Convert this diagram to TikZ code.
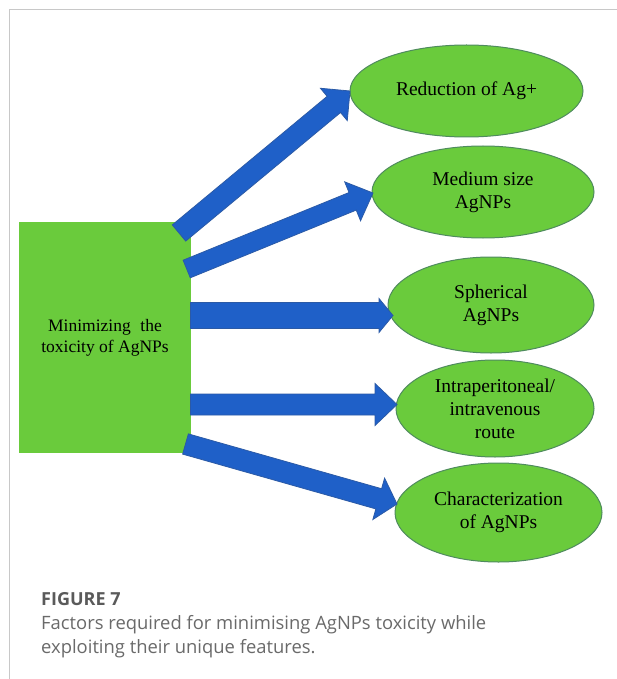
\documentclass[tikz,border=0pt]{standalone}
\usepackage{fontspec}
\setmainfont{Liberation Serif}
\newfontfamily\capfont{Open Sans}
\usetikzlibrary{calc,shapes.geometric}
\definecolor{boxgreen}{HTML}{6ACB3C}
\definecolor{ellline}{HTML}{4F8B5E}
\definecolor{arrblue}{HTML}{1F60C8}
\definecolor{arrline}{HTML}{2B5AA6}
\definecolor{framegray}{HTML}{C8C8C8}
\definecolor{capgray}{HTML}{5A5A5A}
\definecolor{capbody}{HTML}{6A6A6A}
\tikzset{
  arrowshape/.style={fill=arrblue, draw=arrline, line width=0.8pt, line join=miter},
  boxnode/.style={rectangle, fill=boxgreen, draw=none, inner sep=0pt, align=center,
    font=\fontsize{17.5}{21}\selectfont},
  factor/.style={ellipse, fill=boxgreen, draw=ellline, line width=1pt, inner sep=0pt,
    align=center, font=\fontsize{19.5}{23}\selectfont},
  capfig/.style={inner sep=0pt, text=capgray, font=\capfont\bfseries\fontsize{18}{22}\selectfont},
  captext/.style={inner sep=0pt, text=capbody, font=\capfont\fontsize{18.4}{22}\selectfont},
}
\newcommand\blkarrow[5]{%
  \coordinate (#1#2b) at ($(#2)!#5!(#1)$);
  \draw[arrowshape] ($(#1)!#3!90:(#2)$) -- ($(#1#2b)!#3!90:(#2)$) -- ($(#1#2b)!#4!90:(#2)$)
    -- (#2) -- ($(#1#2b)!#4!-90:(#2)$) -- ($(#1#2b)!#3!-90:(#2)$) -- ($(#1)!#3!-90:(#2)$) -- cycle;
}
\begin{document}
\begin{tikzpicture}[x=1pt,y=-1pt]
\useasboundingbox (0,0) rectangle (617,679);
\fill[white] (0,0) rectangle (617,679);
\draw[framegray, line width=1.3pt] (9.5,679) -- (9.5,9.5) -- (617,9.5);

\node[boxnode, minimum width=172pt, minimum height=231pt] (src) at (105,337.5)
  {Minimizing\hspace{0.55em}the\\toxicity of AgNPs};

\node[factor, minimum width=233pt, minimum height=92pt] (e1) at (466.5,91) {Reduction of Ag+};
\node[factor, minimum width=222pt, minimum height=92pt] (e2) at (483,192) {Medium size\\AgNPs};
\node[factor, minimum width=206pt, minimum height=96pt] (e3) at (491,305) {Spherical\\AgNPs};
\node[factor, minimum width=198pt, minimum height=97pt] (e4) at (495,408.5) {Intraperitoneal/\\intravenous\\route};
\node[factor, minimum width=207pt, minimum height=99pt] (e5) at (498.5,512.5) {Characterization\\of AgNPs};

\coordinate (a1s) at (179,233);   \coordinate (a1t) at (350,91);
\coordinate (a2s) at (186.7,269); \coordinate (a2t) at (373,193);
\coordinate (a3s) at (190.5,315.5); \coordinate (a3t) at (393,315.5);
\coordinate (a4s) at (190.5,404.5); \coordinate (a4t) at (397,404.5);
\coordinate (a5s) at (185.5,444); \coordinate (a5t) at (397,504);

\blkarrow{a1s}{a1t}{10.5pt}{21pt}{21pt}
\blkarrow{a2s}{a2t}{9.5pt}{21pt}{22pt}
\blkarrow{a3s}{a3t}{13pt}{17pt}{14pt}
\blkarrow{a4s}{a4t}{10.5pt}{21pt}{22pt}
\blkarrow{a5s}{a5t}{10.5pt}{21.5pt}{19pt}

\node[capfig, anchor=base west] (fig) at (41,605) {FIGURE 7};
\node[captext, anchor=base west] (cap1) at (41,629) {Factors required for minimising AgNPs toxicity while};
\node[captext, anchor=base west] (cap2) at (41,653) {exploiting their unique features.};
\end{tikzpicture}
\end{document}
